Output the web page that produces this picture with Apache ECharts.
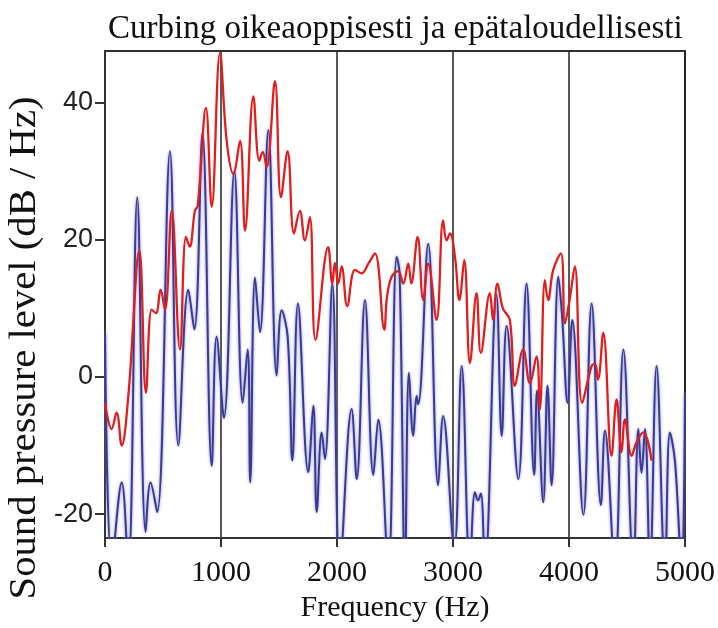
<!DOCTYPE html>
<html>
<head>
<meta charset="utf-8">
<script src="https://cdn.jsdelivr.net/npm/echarts@6/dist/echarts.min.js"></script>
<style>html,body{margin:0;padding:0;background:#fff;}#c{width:718px;height:628px;}</style>
</head>
<body>
<div id="c"></div>
<script>
const titleText = 'Curbing oikeaoppisesti ja epätaloudellisesti';
const xName = 'Frequency (Hz)';
const yName = 'Sound pressure level (dB / Hz)';
const yTicks = [-20, 0, 20, 40];

const blueFreq = [0,60,144,200,278,350,393,450,560,632,718,770,840,920,962,1025,1115,1187,1230,1252,1293,1336,1408,1480,1523,1575,1615,1663,1752,1796,1825,1868,1896,1960,2025,2126,2170,2241,2313,2356,2442,2514,2540,2586,2620,2657,2686,2700,2786,2872,2915,3011,3075,3146,3189,3215,3240,3275,3375,3420,3462,3563,3634,3700,3725,3778,3815,3850,3908,3940,3988,4028,4124,4195,4275,4310,4396,4469,4555,4598,4625,4655,4698,4755,4827,4870,4914,4970,5000];
const blueDb = [6.5,-27,-15.4,-28,26.2,-22.6,-15.4,-19.7,32.9,-10,12.7,6.9,35.5,-13,5.9,-6,30,-3.8,4,-15.4,14.5,6.5,36,0.2,9.7,5.8,-12.2,10.7,-13.9,-4.2,-19.7,-8.1,-12,13.6,-28,-4.7,-14.9,11.2,-14.3,-6.2,-28,17.5,15,-28,0.6,-8.6,-2.8,-4,19.4,-15.8,-5.7,-25,1.6,-28,-16.8,-18,-17,-28,12,-8.6,7.4,-14.9,13.6,-14.3,-2,-18.3,-1.3,-15.8,14.6,9,-3.8,8.3,-20.1,10.7,-18.7,-7.8,-28,4,-28,-7.6,-14,-7.6,-28,1.6,-28,-8.1,-12.4,-28,-2.3];

const redFreq = [0,57,100,144,200,296,353,402,440,479,517,575,646,698,730,775,800,870,920,991,1049,1106,1164,1207,1279,1330,1360,1393,1465,1517,1574,1629,1680,1723,1766,1815,1924,1960,1982,2011,2040,2088,2155,2212,2270,2327,2408,2430,2471,2528,2571,2614,2640,2695,2743,2786,2858,2915,2945,2974,3017,3055,3097,3146,3203,3240,3318,3345,3383,3430,3490,3534,3605,3663,3720,3749,3792,3820,3864,3930,3965,4005,4050,4114,4195,4224,4250,4295,4367,4410,4453,4482,4540,4580,4640,4712];
const redDb = [-3.8,-7.6,-5.2,-10,-3,18.4,-2.3,9.8,9.3,12.7,9.8,24.2,4,20.4,19,24.2,25,39.2,24.8,47.2,34.4,29.6,34.4,21.3,40.9,31.5,32.8,30.6,43.1,26.2,32.9,20.9,24.2,19.9,23.3,5.4,18.9,13.6,16.6,13.6,16.1,10.3,15.6,15.1,16.5,18,6.9,11.5,14.6,15.4,13.6,16.5,13.6,20.4,11.2,16.5,8.3,22.8,19.9,20.9,17.5,11.2,17,2,12.2,3.5,12.2,8.3,13.6,10,8.3,-1.3,4,-0.9,3,-4.7,14.1,11.2,15.6,18,7.8,11.2,16.1,-3.8,1.6,1.9,-0.4,6.4,-11.5,-3.3,-11,-6.2,-11.5,-9.6,-8.1,-12.2];

const blueData = blueFreq.map((f, i) => [f, blueDb[i]]);
const redData = redFreq.map((f, i) => [f, redDb[i]]);

const chart = echarts.init(document.getElementById('c'), null, {renderer: 'canvas'});
chart.setOption({
  backgroundColor: '#ffffff',
  animation: false,
  title: {
    text: titleText,
    left: 103, top: 8,
    textStyle: {fontFamily: 'Liberation Serif', fontSize: 33, fontWeight: 'normal', color: '#111'}
  },
  grid: {left: 105, right: 32, top: 51, bottom: 87, show: true, borderColor: '#333', borderWidth: 2, backgroundColor: 'transparent'},
  xAxis: {
    type: 'value', min: 0, max: 5000, interval: 1000,
    name: xName, nameLocation: 'middle', nameGap: 54,
    nameTextStyle: {fontFamily: 'Liberation Serif', fontSize: 30, color: '#111'},
    axisLine: {onZero: false, lineStyle: {color: '#333', width: 2}},
    axisTick: {show: true, inside: false, length: 9, lineStyle: {color: '#333', width: 2}},
    axisLabel: {fontFamily: 'Liberation Serif', fontSize: 30, color: '#111', margin: 20, formatter: v => String(v)},
    splitLine: {show: true, lineStyle: {color: '#222', width: 1.5}}
  },
  yAxis: {
    type: 'value', min: -23.5, max: 47.5,
    axisLine: {show: true, lineStyle: {color: '#333', width: 2}},
    axisTick: {show: true, inside: false, length: 10, customValues: yTicks, lineStyle: {color: '#333', width: 2}},
    axisLabel: {customValues: yTicks, fontFamily: 'Liberation Sans', fontSize: 27, color: '#222', margin: 12},
    splitLine: {show: false}
  },
  graphic: [{
    type: 'text', x: 25, y: 348, rotation: Math.PI / 2, scaleX: 1.1,
    style: {text: yName, fontFamily: 'Liberation Serif', fontSize: 37, fill: '#111', align: 'center', verticalAlign: 'middle'}
  }],
  series: [
    {
      type: 'line', data: blueData, smooth: 0.4, showSymbol: false, clip: true,
      lineStyle: {color: '#3a3a8e', width: 2, shadowColor: 'rgba(120,120,225,0.9)', shadowBlur: 3}
    },
    {
      type: 'line', data: redData, smooth: 0.4, showSymbol: false, clip: true,
      lineStyle: {color: '#e21d1d', width: 2.3}
    }
  ]
});
</script>
</body>
</html>
